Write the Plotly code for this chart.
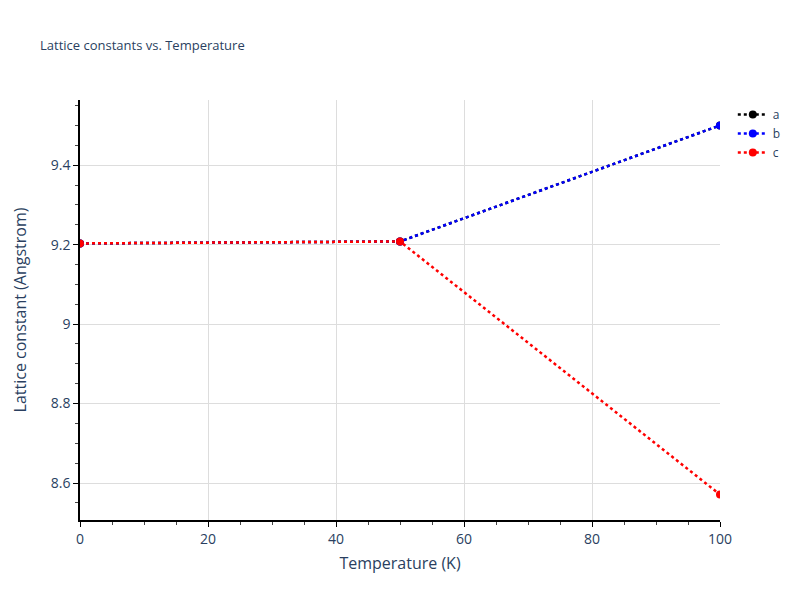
import plotly.graph_objects as go

temperature = [0, 50, 100]
a_vals = [9.203, 9.208, 9.500]
b_vals = [9.203, 9.208, 9.500]
c_vals = [9.203, 9.208, 8.571]

series = [("a", a_vals, "black"), ("b", b_vals, "blue"), ("c", c_vals, "red")]

fig = go.Figure()
for name, vals, color in series:
    fig.add_trace(go.Scatter(
        x=temperature, y=vals, name=name, mode="lines+markers",
        line=dict(color=color, dash="dot", width=2.5),
        marker=dict(color=color, size=8),
    ))

axis_common = dict(
    showline=True, linecolor="black", linewidth=1.5,
    ticks="outside", ticklen=5, tickcolor="black",
    showgrid=True, gridcolor="#dddddd", gridwidth=1,
    zeroline=False, mirror=False,
    tickfont=dict(size=14, color="#2a3f5f"),
)

fig.update_layout(
    width=800, height=600,
    template=None,
    plot_bgcolor="white", paper_bgcolor="white",
    font=dict(family="Open Sans, Verdana, Arial, sans-serif", color="#2a3f5f"),
    title=dict(text="Lattice constants vs. Temperature", x=0.04, y=0.938, yanchor="middle",
               font=dict(size=13)),
    margin=dict(l=72, r=88, t=92, b=88),
    legend=dict(font=dict(size=12)),
    xaxis=dict(title=dict(text="Temperature (K)", standoff=11, font=dict(size=16, color="#2a3f5f")),
               range=[0, 100], dtick=20,
               minor=dict(dtick=5, ticks="outside", ticklen=3, tickcolor="#444", showgrid=False),
               **axis_common),
    yaxis=dict(title=dict(text="Lattice constant (Angstrom)", standoff=20, font=dict(size=16, color="#2a3f5f")),
               range=[8.507, 9.564], dtick=0.2,
               minor=dict(dtick=0.05, ticks="outside", ticklen=3, tickcolor="#444", showgrid=False),
               **axis_common),
)

fig.write_html("out.html")
